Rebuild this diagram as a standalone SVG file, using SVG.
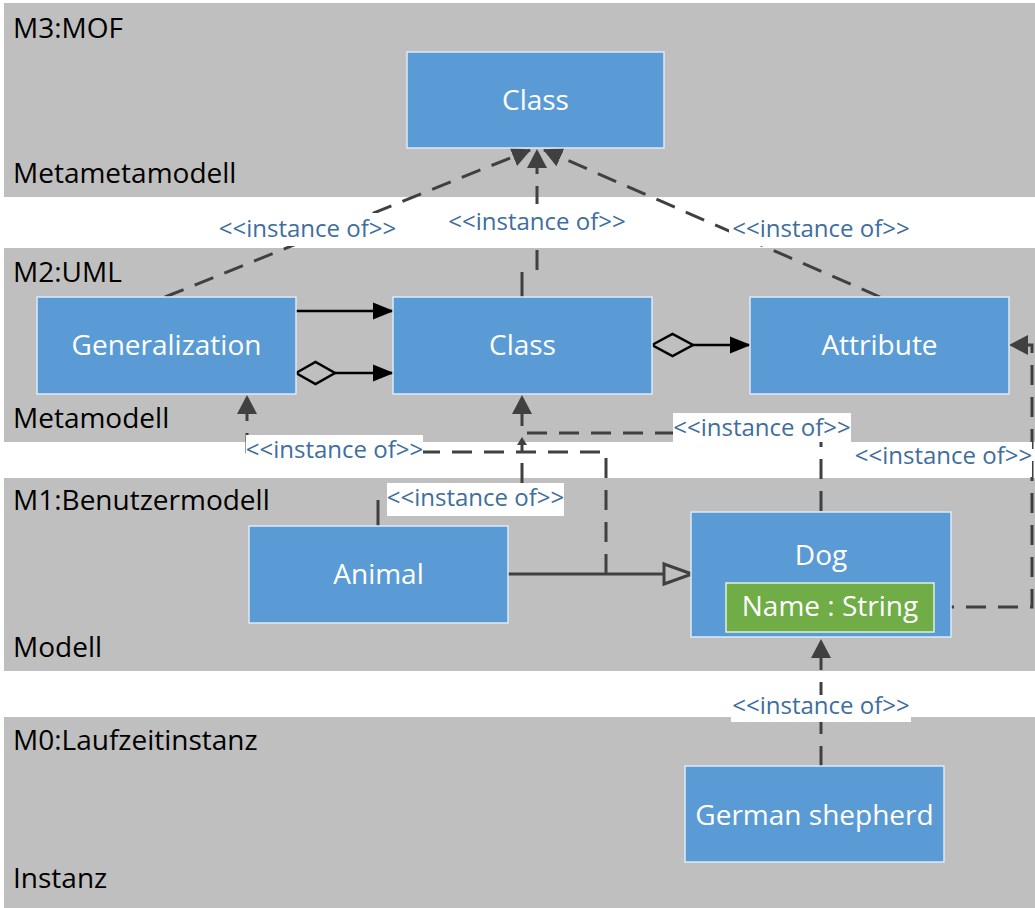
<svg xmlns="http://www.w3.org/2000/svg" width="1035" height="908" viewBox="0 0 1035 908">
  <style>
    .band { fill: #BFBFBF; }
    .bandlabel { font-family: "Open Sans", "Liberation Sans", sans-serif; font-size: 28px; fill: #000; }
    .box { fill: #5B9BD5; stroke: #DCEAF7; stroke-width: 1.5; }
    .attr { fill: #70AD47; stroke: #E2F0D9; stroke-width: 1.5; }
    .nodetext { font-family: "Open Sans", "Liberation Sans", sans-serif; font-size: 28px; fill: #fff; text-anchor: middle; }
    .lblbg { fill: #fff; }
    .lbl { font-family: "Open Sans", "Liberation Sans", sans-serif; font-size: 24px; fill: #3E6E9E; text-anchor: middle; }
    .dash { fill: none; stroke: #404040; stroke-width: 3; stroke-dasharray: 20 12; }
    .solid { fill: none; stroke: #404040; stroke-width: 3; }
    .assoc { fill: none; stroke: #000; stroke-width: 2.5; }
  </style>
  <defs>
    <marker id="inst" markerUnits="userSpaceOnUse" markerWidth="19" markerHeight="20" viewBox="0 0 19 20" refX="18" refY="10" orient="auto">
      <path d="M0,0 L19,10 L0,20 Z" fill="#404040"/>
    </marker>
    <marker id="nav" markerUnits="userSpaceOnUse" markerWidth="21" markerHeight="18" viewBox="0 0 21 18" refX="20" refY="9" orient="auto">
      <path d="M0,0.5 L21,9 L0,17.5 Z" fill="#000"/>
    </marker>
  </defs>

  <!-- layer bands -->
  <g id="layers">
    <rect class="band" x="4" y="3" width="1031" height="194"/>
    <rect class="band" x="4" y="248" width="1031" height="194"/>
    <rect class="band" x="4" y="478" width="1031" height="193"/>
    <rect class="band" x="4" y="717" width="1031" height="191"/>
    <text class="bandlabel" x="13" y="38">M3:MOF</text>
    <text class="bandlabel" x="13" y="183">Metametamodell</text>
    <text class="bandlabel" x="13" y="282">M2:UML</text>
    <text class="bandlabel" x="13" y="428">Metamodell</text>
    <text class="bandlabel" x="13" y="510">M1:Benutzermodell</text>
    <text class="bandlabel" x="13" y="657">Modell</text>
    <text class="bandlabel" x="13" y="750">M0:Laufzeitinstanz</text>
    <text class="bandlabel" x="13" y="888">Instanz</text>
  </g>

  <!-- connectors -->
  <g id="connectors">
    <!-- instance-of links into the MOF Class -->
    <path class="dash" d="M165,297 L530,150" marker-end="url(#inst)"/>
    <path class="dash" d="M537,270 L537,150" marker-end="url(#inst)"/>
    <path class="solid" d="M522,297 L522,272"/>
    <path class="dash" d="M880,297 L544,150" marker-end="url(#inst)"/>

    <!-- UML metamodel associations -->
    <path class="assoc" d="M296,311 H393" marker-end="url(#nav)"/>
    <polygon class="assoc" points="296,373 315.5,362 335,373 315.5,384"/>
    <path class="assoc" d="M335,373 H393" marker-end="url(#nav)"/>
    <polygon class="assoc" points="652,345 672.5,334 693,345 672.5,356"/>
    <path class="assoc" d="M693,345 H750" marker-end="url(#nav)"/>

    <!-- generalization Animal -> Dog -->
    <path class="solid" d="M508,574 H664"/>
    <polygon points="664,564 692,574 664,584" fill="#BFBFBF" stroke="#404040" stroke-width="3" stroke-linejoin="miter"/>

    <!-- generalization link is an instance of Generalization -->
    <path class="dash" d="M606,574 V452 H247 V396" marker-end="url(#inst)"/>
    <!-- Dog is an instance of Class -->
    <path class="dash" d="M821,511 V433 H522 V396" marker-end="url(#inst)"/>
    <!-- Animal is an instance of Class -->
    <path class="solid" d="M378,526 V500"/>
    <path class="dash" d="M522,483 V444" stroke-dasharray="3 14 24 10"/>
    <polygon points="522,437 527,445 517,445" fill="#404040"/>
    <!-- Name : String is an instance of Attribute -->
    <path class="dash" d="M934,607 H1032 V345 H1010" marker-end="url(#inst)"/>
    <!-- German shepherd is an instance of Dog -->
    <path class="dash" d="M821,766 V640" marker-end="url(#inst)"/>
  </g>

  <!-- connector labels -->
  <g id="labels">
    <rect class="lblbg" x="219" y="213" width="177" height="33"/>
    <text class="lbl" x="307.5" y="237">&lt;&lt;instance of&gt;&gt;</text>
    <rect class="lblbg" x="449" y="204" width="176" height="38"/>
    <text class="lbl" x="537" y="230">&lt;&lt;instance of&gt;&gt;</text>
    <rect class="lblbg" x="729" y="213" width="182" height="33"/>
    <text class="lbl" x="821" y="237">&lt;&lt;instance of&gt;&gt;</text>

    <rect class="lblbg" x="246" y="435" width="177" height="27"/>
    <text class="lbl" x="334.5" y="458">&lt;&lt;instance of&gt;&gt;</text>
    <rect class="lblbg" x="673" y="413" width="178" height="29"/>
    <text class="lbl" x="762" y="436">&lt;&lt;instance of&gt;&gt;</text>
    <rect class="lblbg" x="855" y="442" width="177" height="35"/>
    <text class="lbl" x="943.5" y="464">&lt;&lt;instance of&gt;&gt;</text>
    <rect class="lblbg" x="387" y="483" width="177" height="33"/>
    <text class="lbl" x="475.5" y="506">&lt;&lt;instance of&gt;&gt;</text>
    <rect class="lblbg" x="731" y="695" width="180" height="27"/>
    <text class="lbl" x="821" y="714">&lt;&lt;instance of&gt;&gt;</text>
  </g>

  <!-- nodes -->
  <g id="mof-class">
    <rect class="box" x="407" y="52" width="257" height="96"/>
    <text class="nodetext" x="535.5" y="110">Class</text>
  </g>
  <g id="uml-generalization">
    <rect class="box" x="37" y="297" width="259" height="97"/>
    <text class="nodetext" x="166.5" y="355">Generalization</text>
  </g>
  <g id="uml-class">
    <rect class="box" x="393" y="297" width="259" height="97"/>
    <text class="nodetext" x="522.5" y="355">Class</text>
  </g>
  <g id="uml-attribute">
    <rect class="box" x="750" y="297" width="259" height="97"/>
    <text class="nodetext" x="879.5" y="355">Attribute</text>
  </g>
  <g id="animal">
    <rect class="box" x="249" y="526" width="259" height="97"/>
    <text class="nodetext" x="378.5" y="584">Animal</text>
  </g>
  <g id="dog">
    <rect class="box" x="691" y="512" width="260" height="125"/>
    <text class="nodetext" x="821" y="565">Dog</text>
    <rect class="attr" x="726" y="583" width="208" height="49"/>
    <text class="nodetext" x="830" y="616">Name : String</text>
  </g>
  <g id="german-shepherd">
    <rect class="box" x="685" y="766" width="259" height="96"/>
    <text class="nodetext" x="814.5" y="825">German shepherd</text>
  </g>
</svg>
